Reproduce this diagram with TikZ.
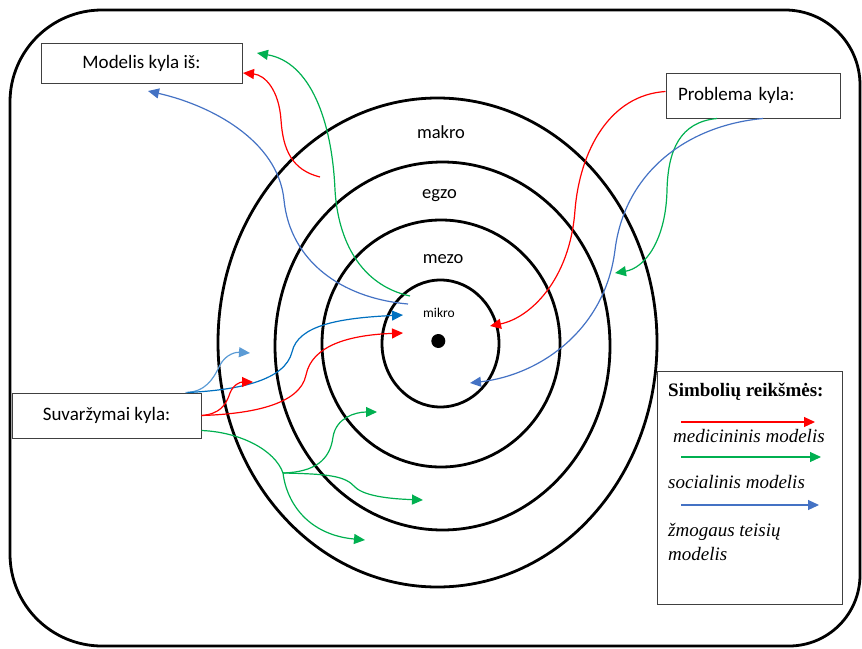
\documentclass[tikz,border=0pt]{standalone}
\usepackage{fontspec}
\setmainfont{Liberation Serif}
\newfontfamily\calfont{Carlito}
\usetikzlibrary{arrows.meta}
\definecolor{cred}{RGB}{255,0,0}
\definecolor{cgreen}{RGB}{0,176,80}
\definecolor{cblue}{RGB}{68,114,196}
\definecolor{cdblue}{RGB}{0,112,192}
\definecolor{clblue}{RGB}{91,155,213}
\definecolor{boxgray}{RGB}{64,64,64}
\begin{document}
\begin{tikzpicture}[x=1pt,y=-1pt,
  ring/.style={line width=2.8pt},
  conn/.style={line width=1.2pt, -{Triangle[length=11pt,width=10pt]}},
  plain/.style={line width=1.2pt},
  box/.style={draw=boxgray, line width=1pt, fill=white, inner sep=0pt, font=\calfont\fontsize{19}{23}\selectfont},
  ringlabel/.style={font=\calfont\fontsize{18.5}{22}\selectfont, anchor=base, inner sep=0pt},
  legtext/.style={font=\fontsize{19}{23}\selectfont\itshape, anchor=base west, inner sep=0pt}]
\useasboundingbox (0,0) rectangle (862,648);
% outer frame
\draw[ring] (102,10) -- (785,10) .. controls (826.4,10) and (860,43.6) .. (860,85)
  -- (860,575) .. controls (860,614.2) and (828.2,646) .. (789,646)
  -- (102,646) .. controls (51.2,646) and (10,604.8) .. (10,554)
  -- (10,102) .. controls (10,51.2) and (51.2,10) .. (102,10) -- cycle;
% rings
\draw[ring] (437.5,342.5) ellipse [x radius=219.5, y radius=244.5];
\draw[ring] (442.5,346) ellipse [x radius=167.5, y radius=184];
\draw[ring] (441,343.5) ellipse [x radius=119, y radius=123.5];
\draw[ring] (440.5,343.5) ellipse [x radius=58.5, y radius=63.5];
\node[circle, fill=black, minimum size=14pt, inner sep=0pt] (dot) at (438.3,341) {};
% ring labels
\node[ringlabel] (lmakro) at (441,138) {makro};
\node[ringlabel] (legzo) at (439.5,198) {egzo};
\node[ringlabel] (lmezo) at (443,263.5) {mezo};
\node[ringlabel, font=\calfont\fontsize{13.5}{16}\selectfont] (lmikro) at (439,317) {mikro};
% boxes
\node[box, minimum width=201pt, minimum height=40pt] (mod) at (141.5,63) {Modelis kyla iš:};
\node[box, minimum width=189pt, minimum height=45pt] (suv) at (106.5,415.5) {Suvaržymai kyla:};
\node[box, text width=150pt, inner xsep=12pt, minimum height=45pt, align=left] (prob) at (753,95.5) {Problema kyla:};
% legend
\node[draw=boxgray, line width=1pt, fill=white, minimum width=185pt, minimum height=233pt, inner sep=0pt] (leg) at (749.5,487.5) {};
\node[font=\bfseries\fontsize{19}{23}\selectfont, anchor=base west, inner sep=0pt] (legtitle) at (668,396) {Simbolių reikšmės:};
\node[legtext] (legmed) at (673,442.5) {medicininis modelis};
\node[legtext] (legsoc) at (668,488) {socialinis modelis};
\node[legtext] (leghr) at (668,536) {žmogaus teisių};
\node[legtext] (leghr2) at (668,560.5) {modelis};
\coordinate (lr0) at (681,422); \coordinate (lr1) at (815,422);
\coordinate (lg0) at (681,457); \coordinate (lg1) at (821,457);
\coordinate (lb0) at (681,505); \coordinate (lb1) at (819,505);
\draw[conn, cred] (lr0) -- (lr1);
\draw[conn, cgreen] (lg0) -- (lg1);
\draw[conn, cblue] (lb0) -- (lb1);
% arrows to "Modelis kyla is"
\coordinate (rM0) at (320,177); \coordinate (rM1) at (243,73);
\coordinate (gM0) at (410,296); \coordinate (gM1) at (257,53);
\coordinate (bM0) at (408,304); \coordinate (bM1) at (148,91);
\draw[conn, cred] (rM0) .. controls (292,170) and (283,150) .. (281,120) .. controls (279,90) and (265,75) .. (rM1);
\draw[conn, cgreen] (gM0) .. controls (360,285) and (338,240) .. (335,190) .. controls (332,120) and (310,62) .. (gM1);
\draw[conn, cblue] (bM0) .. controls (340,298) and (290,260) .. (284,200) .. controls (278,140) and (210,105) .. (bM1);
% arrows from "Problema kyla"
\coordinate (rP1) at (490,326);
\coordinate (gP1) at (615,273);
\coordinate (bP1) at (470,383);
\draw[conn, cred] ([yshift=4pt]prob.west) .. controls (610,95) and (580,150) .. (575,210) .. controls (570,280) and (530,318) .. (rP1);
\draw[conn, cgreen] ([xshift=-36pt]prob.south) .. controls (680,122) and (668,150) .. (667,190) .. controls (666,240) and (645,268) .. (gP1);
\draw[conn, cblue] ([xshift=10pt]prob.south) .. controls (690,125) and (625,170) .. (615,250) .. controls (605,330) and (540,375) .. (bP1);
% arrows from "Suvarzymai kyla"
\coordinate (bS1) at (250,353);
\coordinate (bS2) at (403,315);
\coordinate (rS1) at (253,382);
\coordinate (rS2) at (403,333);
\coordinate (gbr) at (283,473);
\coordinate (gS1) at (377,412);
\coordinate (gS2) at (423,500);
\coordinate (gS3) at (365,540);
\draw[conn, clblue] ([xshift=-16pt]suv.north east) .. controls (205,392) and (213,380) .. (220,365) .. controls (226,354) and (236,352) .. (bS1);
\draw[conn, cdblue] ([xshift=-14pt]suv.north east) .. controls (240,390) and (285,380) .. (292,352) .. controls (298,325) and (340,318) .. (bS2);
\draw[conn, cred] (suv.east) .. controls (220,414) and (226,405) .. (230,393) .. controls (233,385) and (240,382) .. (rS1);
\draw[conn, cred] (suv.east) .. controls (250,414) and (300,405) .. (306,375) .. controls (312,345) and (350,335) .. (rS2);
\draw[plain, cgreen] ([yshift=8pt]suv.south east) .. controls (240,432) and (275,450) .. (gbr);
\draw[conn, cgreen] (gbr) .. controls (315,472) and (330,460) .. (333,437) .. controls (336,418) and (355,412) .. (gS1);
\draw[conn, cgreen] (gbr) .. controls (330,474) and (345,476) .. (355,487) .. controls (365,497) and (395,499) .. (gS2);
\draw[conn, cgreen] (gbr) .. controls (287,505) and (310,535) .. (gS3);
\end{tikzpicture}
\end{document}
